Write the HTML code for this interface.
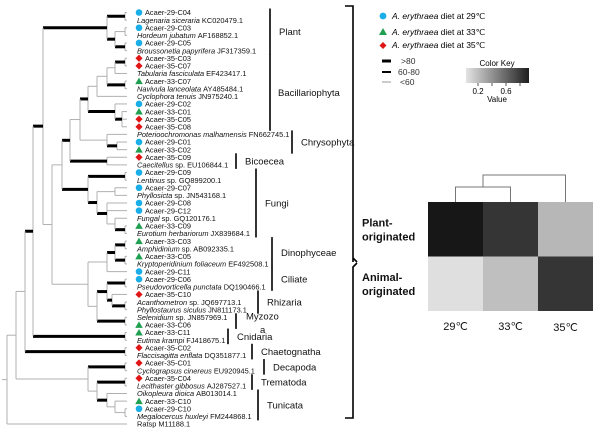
<!DOCTYPE html>
<html><head><meta charset="utf-8">
<style>
html,body{margin:0;padding:0;background:#fff;}
svg{display:block;font-family:"Liberation Sans",sans-serif;}
</style></head>
<body>
<svg id="fig" width="600" height="434" viewBox="0 0 600 434" xmlns="http://www.w3.org/2000/svg">
<g id="tree"></g>
<g id="leaves"></g>
<g id="clades"></g>
<g stroke="#000" stroke-width="1.6" fill="none">
  <path d="M345,6 H353 V258 L357,262 M353,258 V262"/>
  <path d="M357,263 L353,267 V418 H345"/>
</g>
<g font-size="8.5">
  <circle cx="383" cy="16" r="3.4" fill="#1aaee8"/>
  <text x="392" y="19"><tspan font-style="italic">A. erythraea</tspan> diet at 29℃</text>
  <polygon points="383,28 387,35 379,35" fill="#1ea050"/>
  <text x="392" y="35"><tspan font-style="italic">A. erythraea</tspan> diet at 33℃</text>
  <polygon points="383,42 386.5,45.5 383,49 379.5,45.5" fill="#e01515"/>
  <text x="392" y="48"><tspan font-style="italic">A. erythraea</tspan> diet at 35℃</text>
  <line x1="382" y1="61" x2="391" y2="61" stroke="#000" stroke-width="3"/>
  <text x="401" y="64" fill="#333">&gt;80</text>
  <line x1="382" y1="72" x2="391" y2="72" stroke="#000" stroke-width="2"/>
  <text x="398" y="75" fill="#333">60-80</text>
  <line x1="382" y1="82" x2="391" y2="82" stroke="#999" stroke-width="1"/>
  <text x="400" y="85" fill="#333">&lt;60</text>
</g>
<defs><linearGradient id="ck" x1="0" x2="1" y1="0" y2="0"><stop offset="0" stop-color="#e4e4e4"/><stop offset="1" stop-color="#1e1e1e"/></linearGradient></defs>
<g font-size="8">
  <text x="497" y="66" text-anchor="middle">Color Key</text>
  <rect x="466" y="68" width="63" height="15" fill="url(#ck)"/>
  <line x1="478" y1="83" x2="478" y2="86" stroke="#555"/>
  <line x1="492" y1="83" x2="492" y2="86" stroke="#555"/>
  <line x1="506" y1="83" x2="506" y2="86" stroke="#555"/>
  <line x1="520" y1="83" x2="520" y2="86" stroke="#555"/>
  <text x="478" y="94" text-anchor="middle">0.2</text>
  <text x="506" y="94" text-anchor="middle">0.6</text>
  <text x="497" y="102" text-anchor="middle">Value</text>
</g>
<g id="heat"></g>
</svg>
<script>
var NS="http://www.w3.org/2000/svg";
var leafTypes=["c","s","c","s","c","s","d","d","s","t","s","s","c","t","d","d","s","c","t","d","s","c","s","c","s","c","c","s","t","s","t","s","t","s","c","c","s","d","s","s","s","t","t","s","d","s","d","s","d","s","s","t","c","s","p"];
var leafItalic=["","Lagenaria siceraria","","Hordeum jubatum","","Broussonetia papyrifera","","","Tabularia fasciculata","","Navivula lanceolata","Cyclophora tenuis","","","","","Poterioochromonas malhamensis","","","","Caecitellus","","Lentinus","","Phyllosicta","","","Fungal","","Eurotium herbariorum","","Amphidinium","","Kryptoperidinium foliaceum","","","Pseudovorticella punctata","","Acanthometron","Phyllostaurus siculus","Selenidium","","","Eutima krampi","","Flaccisagitta enflata","","Cyclograpsus cinereus","","Lecithaster gibbosus","Oikopleura dioica","","","Megalocercus huxleyi",""];
var leafPlain=["Acaer-29-C04","KC020479.1","Acaer-29-C03","AF168852.1","Acaer-29-C05","JF317359.1","Acaer-35-C03","Acaer-35-C07","EF423417.1","Acaer-33-C07","AY485484.1","JN975240.1","Acaer-29-C02","Acaer-33-C01","Acaer-35-C05","Acaer-35-C08","FN662745.1","Acaer-29-C01","Acaer-33-C02","Acaer-35-C09","sp. EU106844.1","Acaer-29-C09","sp. GQ899200.1","Acaer-29-C07","sp. JN543168.1","Acaer-29-C08","Acaer-29-C12","sp. GQ120176.1","Acaer-33-C09","JX839684.1","Acaer-33-C03","sp. AB092335.1","Acaer-33-C05","EF492508.1","Acaer-29-C11","Acaer-29-C06","DQ190466.1","Acaer-35-C10","sp. JQ697713.1","JN811173.1","sp. JN857969.1","Acaer-33-C06","Acaer-33-C11","FJ418675.1","Acaer-35-C02","DQ351877.1","Acaer-35-C01","EU920945.1","Acaer-35-C04","AJ287527.1","AB013014.1","Acaer-33-C10","Acaer-29-C10","FM244868.1","Ratsp M11188.1"];
var cladeNames=["Plant","Bacillariophyta","Chrysophyta","Bicoecea","Fungi","Dinophyceae","Ciliate","Rhizaria","Myzozo","Cnidaria","Chaetognatha","Decapoda","Trematoda","Tunicata"];
var cladeFirst=[1,7,17,20,22,31,35,38,41,43,45,47,49,51];
var cladeLast=[6,16,19,21,30,34,37,40,42,44,46,48,50,54];
var heatCols=["29℃","33℃","35℃"];
var heatRows=["Plant-originated","Animal-originated"];
var plantVals=[0.9,0.78,0.26];
var animalVals=[0.1,0.23,0.78];

function el(tag,attrs,parent){var e=document.createElementNS(NS,tag);for(var k in attrs)e.setAttribute(k,attrs[k]);parent.appendChild(e);return e;}
var leafX=127, y0=12.5, dy=7.62;
function leafY(i){return y0+(i-1)*dy;}
function N(x,w,c){return {x:x,w:w,c:c};}
var tree=N(7,0,[
 N(16,0,[
  N(25,0,[
   N(33,1,[
    N(43,1,[
     N(107,1,[ N(125,1,[1,2]), N(115,1,[ N(125,0,[3,4]), N(125,1,[5,6]) ]) ]),
     N(52,0,[
      N(62,0,[
       N(70,1,[
        N(80,0,[
         N(88,1,[
          N(97,0,[ N(107,0,[ N(115,0,[ N(125,1,[7,8]), 9 ]), N(125,1,[10,11]) ]), 12 ]),
          N(115,1,[13, N(122,1,[14,15,16]) ])
         ]),
         N(107,0,[17, N(117,1,[18,19]) ])
        ]),
        N(107,1,[20,21])
       ]),
       N(88,1,[
        N(125,1,[22,23]),
        N(97,1,[ N(115,0,[24,25]), N(107,1,[26,27, N(115,0,[28, N(125,1,[29,30]) ]) ]) ])
       ])
      ]),
      N(88,0,[
       N(107,0,[ N(115,1,[ N(125,1,[31,32]), N(125,1,[33,34]) ]), 35 ]),
       N(97,0,[
        N(107,1,[ N(125,1,[36,37]), N(112,1,[38, N(125,1,[39,40]) ]) ]),
        N(125,1,[41,42])
       ])
      ])
     ])
    ]),
    N(125,1,[43,44])
   ]),
   N(125,1,[45,46])
  ]),
  N(88,0,[
   N(125,1,[47,48]),
   N(97,0,[ N(125,1,[49,50]), N(107,1,[51, N(115,0,[52, N(125,0,[53,54]) ]) ]) ])
  ])
 ]),
 55
]);
var tg=document.getElementById("tree");
function draw(n,px){
  if(typeof n==="number"){
    var y=leafY(n);
    var l=el("line",{x1:px,y1:y,x2:leafX,y2:y,stroke:"#b0b0b0","stroke-width":1},tg);
    
    
    return y;
  }
  var ys=n.c.map(function(c){return draw(c,n.x);});
  var y=(ys[0]+ys[ys.length-1])/2;
  var v=el("line",{x1:n.x,y1:ys[0],x2:n.x,y2:ys[ys.length-1],stroke:"#b0b0b0","stroke-width":1},tg);
  
  
  if(px!==null){
    var h=el("line",{x1:px,y1:y,x2:n.x,y2:y,stroke:n.w?"#000":"#b0b0b0","stroke-width":n.w?3:1},tg);
    
    
  }
  return y;
}
var rootY=draw(tree,null);
var rl=el("line",{x1:2,y1:rootY,x2:7,y2:rootY,stroke:"#b0b0b0"},tg);



var lg=document.getElementById("leaves");
for(var i=0;i<leafTypes.length;i++){
  var y=leafY(i+1), t=leafTypes[i], mx=139;
  if(t==="c"){var m=el("circle",{cx:mx,cy:y,r:3.3,fill:"#1aaee8"},lg);}
  if(t==="t"){var m=el("polygon",{points:(mx)+","+(y-3.5)+" "+(mx+3.8)+","+(y+3)+" "+(mx-3.8)+","+(y+3),fill:"#1ea050"},lg);}
  if(t==="d"){var m=el("polygon",{points:mx+","+(y-3.6)+" "+(mx+3.6)+","+y+" "+mx+","+(y+3.6)+" "+(mx-3.6)+","+y,fill:"#e01515"},lg);}
  var tx=(t==="c"||t==="t"||t==="d")?145:137;
  var txt=el("text",{x:tx,y:y+2.7,"font-size":"7.4",fill:"#111"},lg);
  
  
  if(leafItalic[i]){var it=el("tspan",{"font-style":"italic"},txt);it.textContent=leafItalic[i]+" ";}
  var pl=el("tspan",{},txt);pl.textContent=leafPlain[i];
}

var barX=[270,270,292,236,256,272,272,258,236,228,252,264,252,258];
var cg=document.getElementById("clades");
for(var k=0;k<cladeNames.length;k++){
  var ya=leafY(cladeFirst[k])-4, yb=leafY(cladeLast[k])+4, bx=barX[k];
  var b=el("line",{x1:bx,y1:ya,x2:bx,y2:yb,stroke:"#000","stroke-width":1.6},cg);
  
  
  var lt=el("text",{x:bx+(k===1?8:9),y:(ya+yb)/2+3.5,"font-size":"9.5",fill:"#111"},cg);
  
  
  lt.textContent=cladeNames[k];
  if(k===8){lt.setAttribute("x",bx+10);lt.setAttribute("y",leafY(41)+2);
    var a=el("text",{x:bx+24,y:leafY(42)+8,"font-size":"9.5",fill:"#111"},cg);
    
    
    a.textContent="a";}
}

var hg=document.getElementById("heat");
var hx0=428, cw=55, hy0=202, rh=54.5;
function colX(j){return hx0+j*cw;}
function rowY(r){return hy0+r*rh;}
function gray(v){var g=Math.round(Math.max(20,Math.min(235,248-250*v)));return "rgb("+g+","+g+","+g+")";}
var rowsVals=[plantVals,animalVals];
for(var r=0;r<2;r++){
  for(var j=0;j<3;j++){
    var c=el("rect",{x:colX(j),y:rowY(r),width:cw,height:rh,fill:gray(rowsVals[r][j])},hg);
    
    
  }
  var words=heatRows[r].split("-");
  var rl1=el("text",{x:362,y:rowY(r)+rh/2-3,"font-size":"11","font-weight":"bold",fill:"#111"},hg);
  
  
  rl1.textContent=words[0]+"-";
  var rl2=el("text",{x:362,y:rowY(r)+rh/2+11,"font-size":"11","font-weight":"bold",fill:"#111"},hg);
  
  
  rl2.textContent=words[1];
}
for(var j=0;j<3;j++){
  var cl=el("text",{x:colX(j)+cw/2,y:rowY(2)+19+(j===2?1:0),"font-size":"11","text-anchor":"middle",fill:"#111"},hg);
  
  
  cl.textContent=heatCols[j];
}
var c0=colX(0)+cw/2,c1=colX(1)+cw/2,c2=colX(2)+cw/2,m01=(c0+c1)/2;
var dd=el("path",{d:"M"+c0+","+hy0+" V187 H"+c1+" V"+hy0+" M"+m01+",187 V175 H"+c2+" V"+hy0,fill:"none",stroke:"#777","stroke-width":1},hg);


</script>
</body></html>
